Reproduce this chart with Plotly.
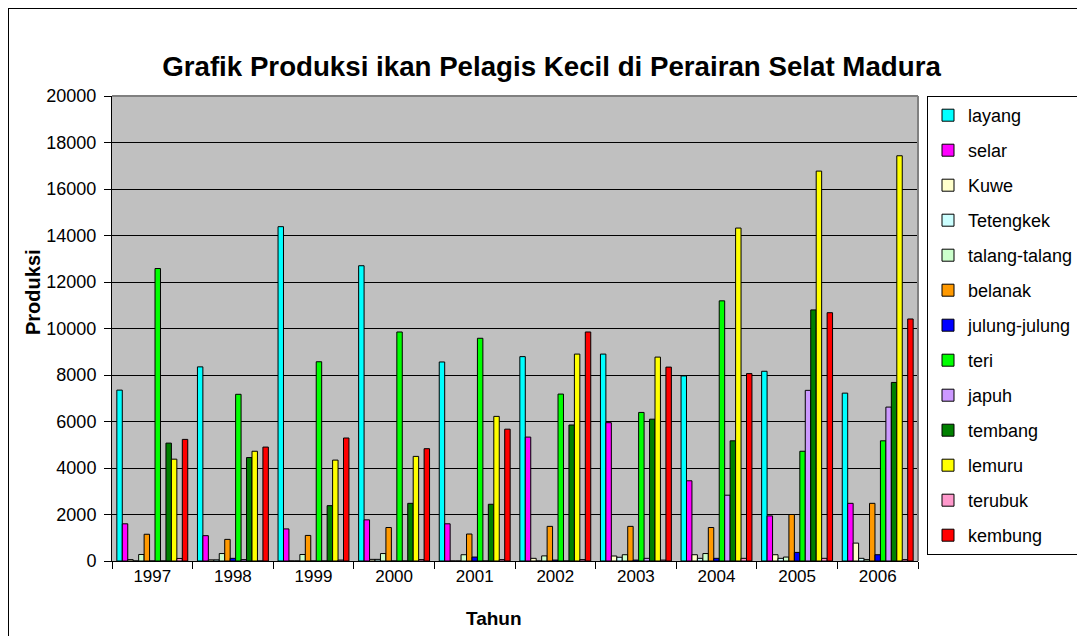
import plotly.graph_objects as go

years = ["1997", "1998", "1999", "2000", "2001", "2002", "2003", "2004", "2005", "2006"]

layang = [7350, 8350, 14380, 12700, 8560, 8790, 8900, 7960, 8160, 7220]
selar = [1600, 1090, 1380, 1770, 1600, 5330, 5950, 3450, 1940, 2480]
kuwe = [60, 50, 0, 70, 0, 115, 215, 270, 270, 770]
tetengkek = [0, 50, 0, 70, 0, 0, 160, 115, 115, 115]
talang_talang = [280, 320, 280, 320, 270, 220, 270, 320, 170, 60]
belanak = [1150, 930, 1100, 1440, 1160, 1490, 1490, 1440, 2000, 2480]
julung_julung = [0, 115, 0, 0, 170, 40, 40, 115, 370, 270]
teri = [12580, 7170, 8570, 9850, 9580, 7180, 6390, 11190, 4720, 5170]
japuh = [0, 60, 0, 0, 0, 0, 115, 2830, 7340, 6620]
tembang = [5070, 4450, 2380, 2480, 2440, 5850, 6100, 5170, 10800, 7680]
lemuru = [4380, 4720, 4340, 4500, 6220, 8900, 8770, 14320, 16770, 17430]
terubuk = [110, 0, 40, 60, 60, 60, 40, 115, 115, 60]
kembung = [5230, 4900, 5290, 4830, 5670, 9850, 8340, 8060, 10680, 10410]

series_names = ["layang", "selar", "Kuwe", "Tetengkek", "talang-talang", "belanak",
                "julung-julung", "teri", "japuh", "tembang", "lemuru", "terubuk", "kembung"]
series_values = [layang, selar, kuwe, tetengkek, talang_talang, belanak,
                 julung_julung, teri, japuh, tembang, lemuru, terubuk, kembung]
series_colors = ["#00FFFF", "#FF00FF", "#FFFFCC", "#CCFFFF", "#CCFFCC", "#FF9900",
                 "#0000FF", "#00FF00", "#CC99FF", "#008000", "#FFFF00", "#FF99CC", "#FF0000"]

FONT = "Arial, Liberation Sans, sans-serif"

fig = go.Figure()
for name, vals, col in zip(series_names, series_values, series_colors):
    fig.add_trace(go.Bar(
        x=years, y=vals, name=name, legendgroup=name,
        marker=dict(color=col, line=dict(color="black", width=1)),
    ))

# page body has an 8px margin; work in screen pixels and convert
OFF = 8
W, H = 1085 - OFF, 636 - OFF
PL, PR, PT, PB = 112, 918, 96, 561          # plot area in screen pixels
L, R, T, B = PL - OFF, W - (PR - OFF), PT - OFF, H - (PB - OFF)
pw, ph = PR - PL, PB - PT


def px_x(px):
    return (px - PL) / pw


def px_y(py):
    return (PB - py) / ph


fig.update_layout(
    width=W, height=H,
    margin=dict(l=L, r=R, t=T, b=B, autoexpand=False),
    paper_bgcolor="white",
    plot_bgcolor="#C0C0C0",
    barmode="group",
    bargap=0.12,
    bargroupgap=0,
    font=dict(family=FONT, color="black", size=17),
    title=dict(
        text="<b>Grafik Produksi ikan Pelagis Kecil di Perairan Selat Madura</b>",
        font=dict(family=FONT, size=27.7, color="black"),
        x=(551.5 - OFF) / W, xref="container", xanchor="center",
        y=1 - (66 - OFF) / H, yref="container", yanchor="middle",
    ),
    legend=dict(
        x=px_x(927), y=1, xanchor="left", yanchor="top",
        bordercolor="black", borderwidth=1, bgcolor="white",
        font=dict(family=FONT, size=18, color="black"),
        tracegroupgap=8.6,
    ),
    showlegend=True,
)

fig.update_xaxes(
    type="category",
    showline=True, linecolor="black", linewidth=1,
    ticks="outside", tickson="boundaries", ticklen=7, tickcolor="black",
    tickfont=dict(family=FONT, size=17, color="black"),
    showgrid=False, mirror=False,
)
fig.update_yaxes(
    range=[0, 20000], dtick=2000, tick0=0, tickformat="d",
    showline=True, linecolor="black", linewidth=1,
    ticks="outside", ticklen=7, tickcolor="black",
    tickfont=dict(family=FONT, size=18, color="black"),
    ticklabelstandoff=4,
    showgrid=True, gridcolor="black", gridwidth=1,
    zeroline=False,
)

# plot-area frame (gray top/right like Excel) and outer chart frame
fig.add_shape(type="line", xref="paper", yref="paper", x0=0, x1=1, y0=1, y1=1,
              line=dict(color="#808080", width=2), layer="above")
fig.add_shape(type="line", xref="paper", yref="paper", x0=1, x1=1, y0=0, y1=1,
              line=dict(color="#808080", width=2), layer="above")
fig.add_shape(type="line", xref="paper", yref="paper",
              x0=px_x(8), x1=px_x(1100), y0=px_y(8), y1=px_y(8),
              line=dict(color="black", width=2))
fig.add_shape(type="line", xref="paper", yref="paper",
              x0=px_x(8), x1=px_x(8), y0=px_y(8), y1=px_y(650),
              line=dict(color="black", width=2))

fig.add_annotation(text="<b>Produksi</b>", xref="paper", yref="paper",
                   x=px_x(33), y=px_y(292), textangle=-90, showarrow=False,
                   xanchor="center", yanchor="middle",
                   font=dict(family=FONT, size=20, color="black"))
fig.add_annotation(text="<b>Tahun</b>", xref="paper", yref="paper",
                   x=px_x(494), y=px_y(618), showarrow=False,
                   xanchor="center", yanchor="middle",
                   font=dict(family=FONT, size=19, color="black"))

fig.write_html("out.html")
